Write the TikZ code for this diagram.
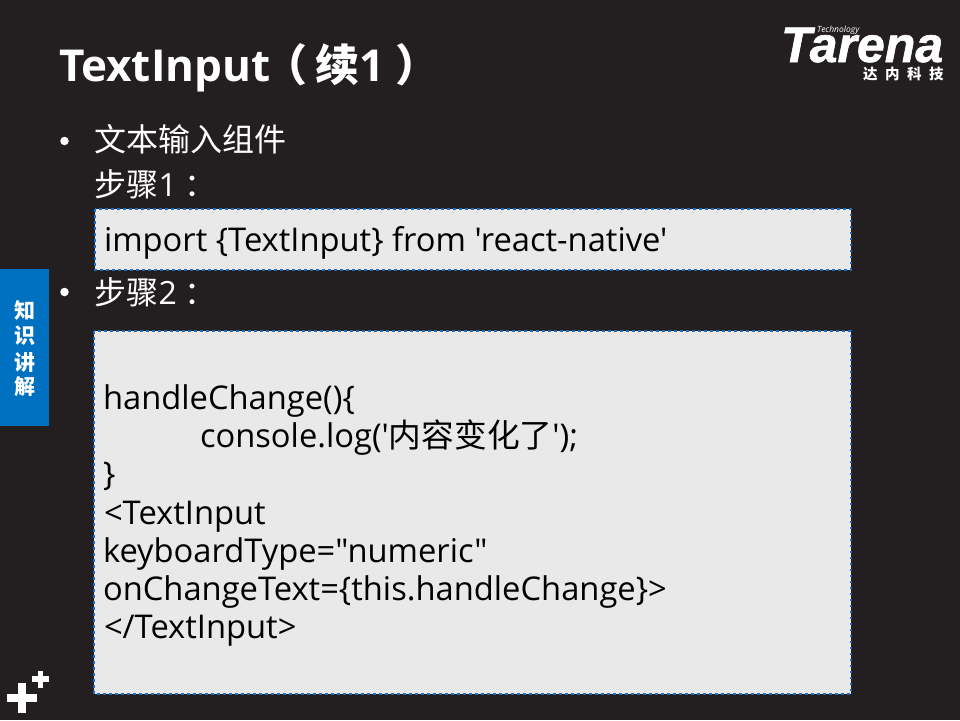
\documentclass[tikz,border=0pt]{standalone}
\usepackage{fontspec}
\setmainfont{Open Sans}
\newfontfamily\codefont{Open Sans}
\newfontfamily\cjk{Noto Sans CJK SC}
\newfontfamily\logofont[FakeBold=1.2]{Liberation Sans}
\definecolor{bgc}{HTML}{231F20}
\definecolor{boxc}{HTML}{E9E9E9}
\definecolor{bluec}{HTML}{0070C0}
\definecolor{dashc}{HTML}{1A6CC4}
\tikzset{
  txt/.style={anchor=base west,inner sep=0pt,outer sep=0pt},
  body/.style={txt,text=white,font=\fontsize{32}{32}\selectfont},
  code/.style={txt,text=black,font=\fontsize{32.7}{32.7}\codefont},
  codebox/.style={fill=boxc,draw=dashc,line width=2pt,dash pattern=on 2.5pt off 3.5pt},
  bull/.style={circle,fill=white,inner sep=0pt,minimum size=8.5pt},
  side/.style={anchor=center,inner sep=0pt,text=white,font=\fontsize{21}{21}\cjk\bfseries},
}
\begin{document}
\begin{tikzpicture}[x=1pt,y=-1pt]
\useasboundingbox (0,0) rectangle (960,720);
\fill[bgc] (0,0) rectangle (960,720);
% title
\node[txt,text=white,font=\fontsize{44}{44}\selectfont\bfseries] (title) at (59,81) {TextInput\hspace{-7pt}{\cjk\bfseries（\hspace{8pt}续}1\hspace{11pt}{\cjk\bfseries）}};
% logo
\node[txt,text=white,text height=26pt,text depth=0pt,font=\fontsize{50}{50}\logofont\bfseries\itshape] (logo) at (781,62) {Tarena};
\node[txt,text=white,font=\fontsize{8.5}{8.5}\selectfont\itshape] (tech) at (817,32) {Technology};
\node[txt,text=white,font=\fontsize{14.5}{14.5}\cjk\bfseries] (cn) at (863,79) {达\hspace{7.5pt}内\hspace{7.5pt}科\hspace{7.5pt}技};
% side tab
\fill[bluec] (0,269) rectangle (49,426);
\node[side] (s1) at (24.5,310) {知};
\node[side] (s2) at (24.5,336) {识};
\node[side] (s3) at (24.5,362) {讲};
\node[side] (s4) at (24.5,387) {解};
% body
\node[bull] (b1) at (64.5,141) {};
\node[body] (t1) at (94.5,151) {\cjk 文本输入组件};
\node[body] (t2) at (94.5,196) {\cjk 步骤{\normalfont 1}\hspace{8pt}：};
\node[bull] (b2) at (64.5,292) {};
\node[body] (t3) at (94.5,304) {\cjk 步骤{\normalfont 2}\hspace{8pt}：};
% boxes
\draw[codebox] (94.5,209) rectangle (850.5,269.5);
\draw[codebox] (93.5,331) rectangle (850.5,693.5);
\node[code] (c0) at (104,251) {import \{TextInput\} from 'react-native'};
\node[code] (c1) at (103,409) {handleChange()\{};
\node[code] (c2) at (200,447) {console.log('{\cjk 内容变化了}');};
\node[code] (c3) at (103,485) {\}};
\node[code] (c4) at (104,524) {<TextInput};
\node[code] (c5) at (103,562) {keyboardType="numeric"};
\node[code] (c6) at (103,600) {onChangeText=\{this.handleChange\}>};
\node[code] (c7) at (104,638) {</TextInput>};
% plus marks
\fill[white] (7,694) rectangle (37,702);
\fill[white] (18,683) rectangle (26,713);
\fill[white] (32,676) rectangle (49,682);
\fill[white] (38,671) rectangle (43,688);
\end{tikzpicture}
\end{document}
